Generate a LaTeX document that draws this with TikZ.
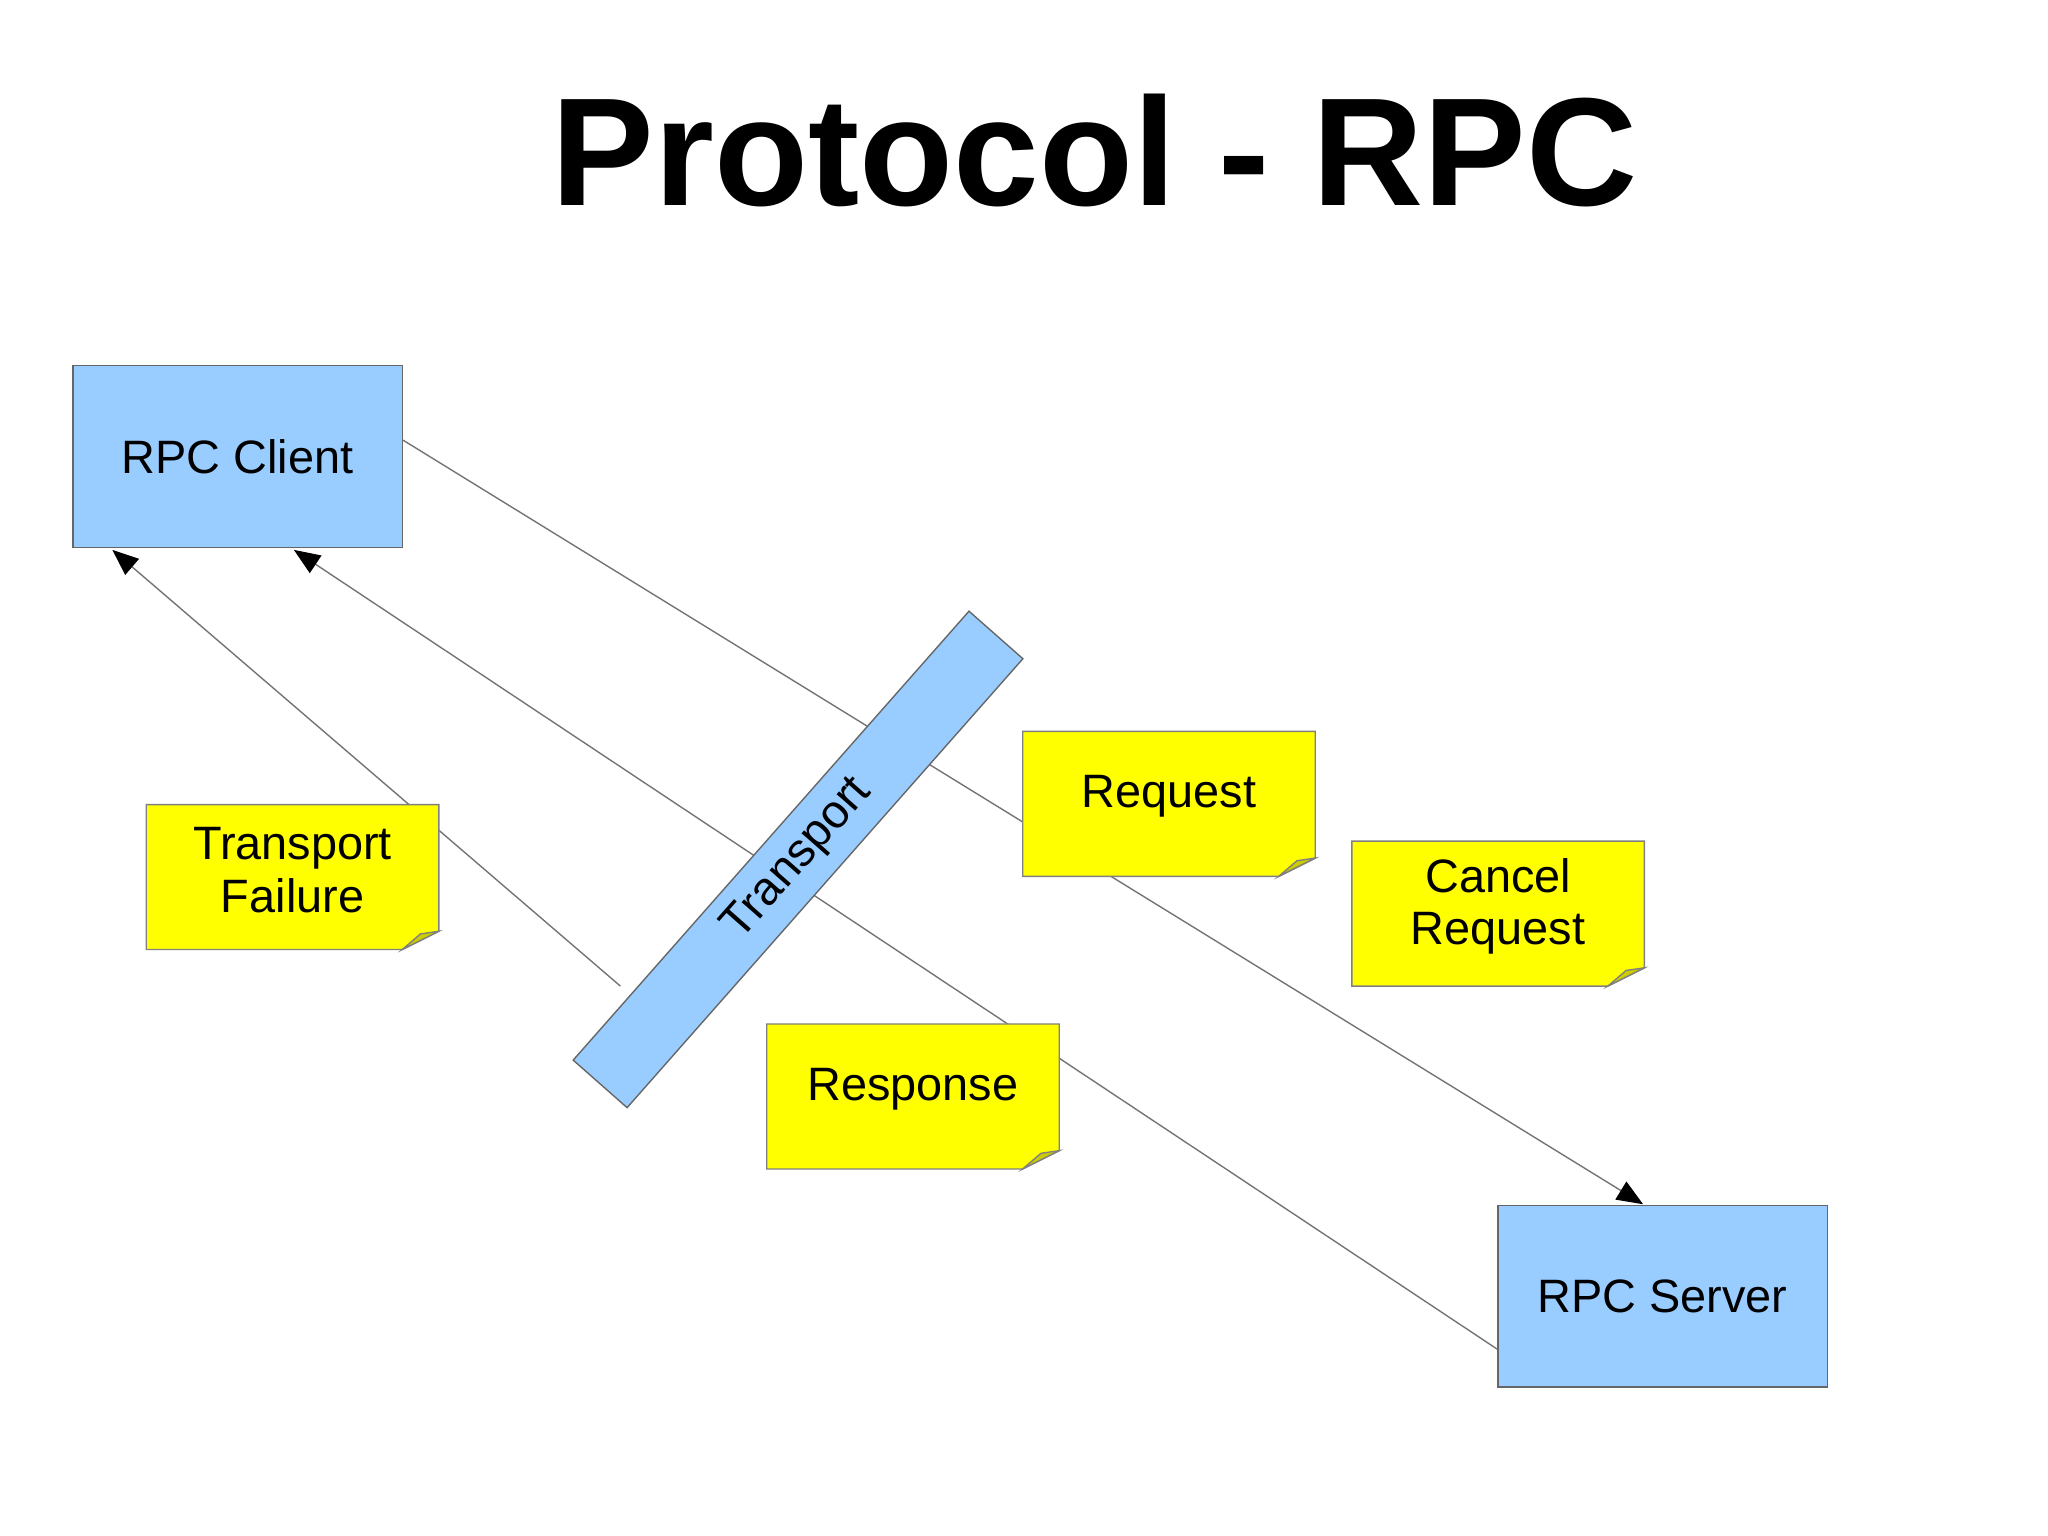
\documentclass[tikz,border=0pt]{standalone}
\usepackage{fontspec}
\setmainfont{Liberation Sans}
\usetikzlibrary{arrows.meta}
\definecolor{boxblue}{RGB}{153,204,255}
\definecolor{noteyel}{RGB}{255,255,0}
\definecolor{folded}{RGB}{204,204,0}
\tikzset{
  box/.style={draw=black!60,line width=0.3pt,fill=boxblue,minimum width=2.52cm,minimum height=1.39cm,inner sep=0pt,font=\fontsize{10.2}{12}\selectfont},
  conn/.style={draw=black!55,line width=0.3pt},
  arr/.style={-{Triangle[length=0.2cm,width=0.16cm,color=black]}},
  notetext/.style={align=center,font=\fontsize{10.2}{11.5}\selectfont,inner sep=0pt}
}
\newcommand\mynote[4]{%
  \fill[noteyel,draw=black!50,line width=0.3pt] (#2,#3) -- (#2+224,#3) -- (#2+224,#3+97) -- (#2+196,#3+111) -- (#2,#3+111) -- cycle;
  \fill[folded,draw=black!50,line width=0.3pt] (#2+224,#3+97) -- (#2+210,#3+99) -- (#2+196,#3+111) -- cycle;
  \node[notetext] (#1) at (#2+112,#3+50) {#4};}
\begin{document}
\begin{tikzpicture}[x=0.01cm,y=-0.01cm]
\useasboundingbox[fill=white] (0,0) rectangle (1568,1176);
\node[font=\fontsize{33.5}{38}\selectfont\bfseries] (title) at (838,115) {Protocol - RPC};
\node[box] (client) at (182,349.5) {RPC Client};
\node[box] (server) at (1273,992.5) {RPC Server};
\coordinate (tf) at (475,755);
\draw[conn,arr] (client.east |- 0,337) -- (1258,922);
\draw[conn,arr] (server.west |- 0,1033) -- (225,421);
\draw[conn,arr] (tf) -- (86,421);
\node[draw=black!60,line width=0.3pt,fill=boxblue,minimum width=4.58cm,minimum height=0.55cm,inner sep=0pt,rotate=48.6,font=\fontsize{10.2}{12}\selectfont] (transport) at (611,658) {Transport};
\mynote{req}{783}{560}{Request}
\mynote{cancel}{1035}{644}{Cancel\\Request}
\mynote{fail}{112}{616}{Transport\\Failure}
\mynote{resp}{587}{784}{Response}
\end{tikzpicture}
\end{document}
